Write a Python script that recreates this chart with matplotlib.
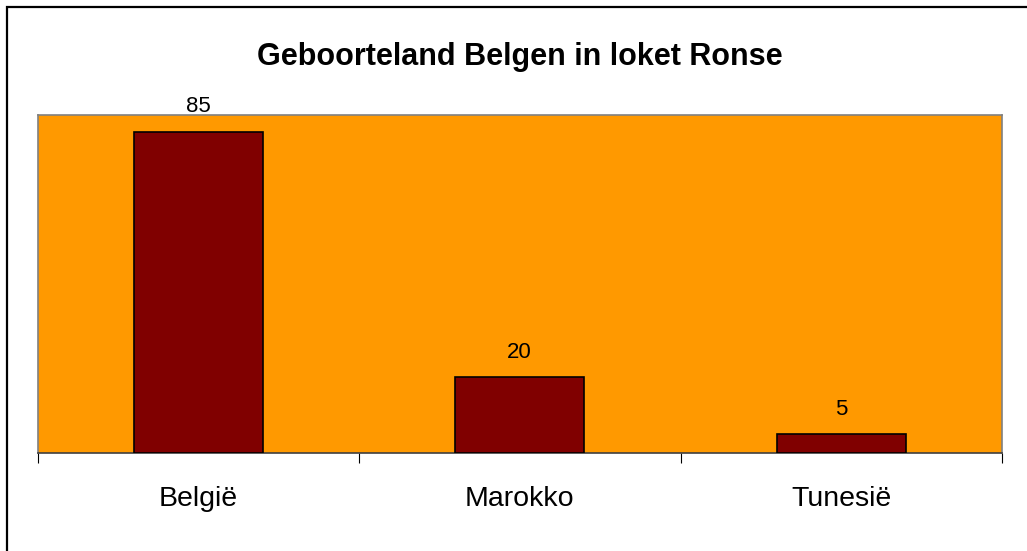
import matplotlib
matplotlib.use("Agg")
import matplotlib.pyplot as plt
from matplotlib.patches import Rectangle

categories = ["België", "Marokko", "Tunesië"]
values = [85, 20, 5]
title = "Geboorteland Belgen in loket Ronse"

plt.rcParams['font.family'] = ['Liberation Sans', 'DejaVu Sans']

W, H = 1027, 551
fig = plt.figure(figsize=(W / 100, H / 100), dpi=100)

# outer frame (only left and top visible in reference)
fig.patches.append(Rectangle((7 / W, -0.1), 1.2, 1.1 - 7 / H, transform=fig.transFigure,
                             fill=False, edgecolor='black', linewidth=1.6))

ax = fig.add_axes([37.5 / W, (H - 453) / H, (1002 - 37.5) / W, (453 - 115) / H])
ax.set_facecolor('#FF9900')

x = list(range(len(categories)))
bars = ax.bar(x, values, width=0.4, color='#800000', edgecolor='black', linewidth=1.2, zorder=3)
ax.set_xlim(-0.5, len(categories) - 0.5)
ax.set_ylim(0, 89.4)

for xi, v in zip(x, values):
    ax.annotate(str(v), (xi, v), xytext=(0, 14), textcoords='offset points',
                ha='center', va='baseline', fontsize=16, color='black')

ax.set_yticks([])
ax.set_xticks(x)
ax.set_xticklabels(categories, fontsize=20.5)
ax.tick_params(axis='x', which='major', length=0, pad=24)
ax.set_xticks([i - 0.5 for i in range(len(categories) + 1)], minor=True)
ax.tick_params(axis='x', which='minor', length=7.2, width=0.8, color='black', direction='out')

for s in ['left', 'top', 'right']:
    ax.spines[s].set_color('#808080')
    ax.spines[s].set_linewidth(1.2)
ax.spines['bottom'].set_color('#404040')
ax.spines['bottom'].set_linewidth(1.2)

fig.text(519.5 / W, (H - 65) / H, title, ha='center', va='baseline',
         fontsize=22, fontweight='bold', color='black')

fig.savefig('out.png', dpi=100, facecolor='white')
